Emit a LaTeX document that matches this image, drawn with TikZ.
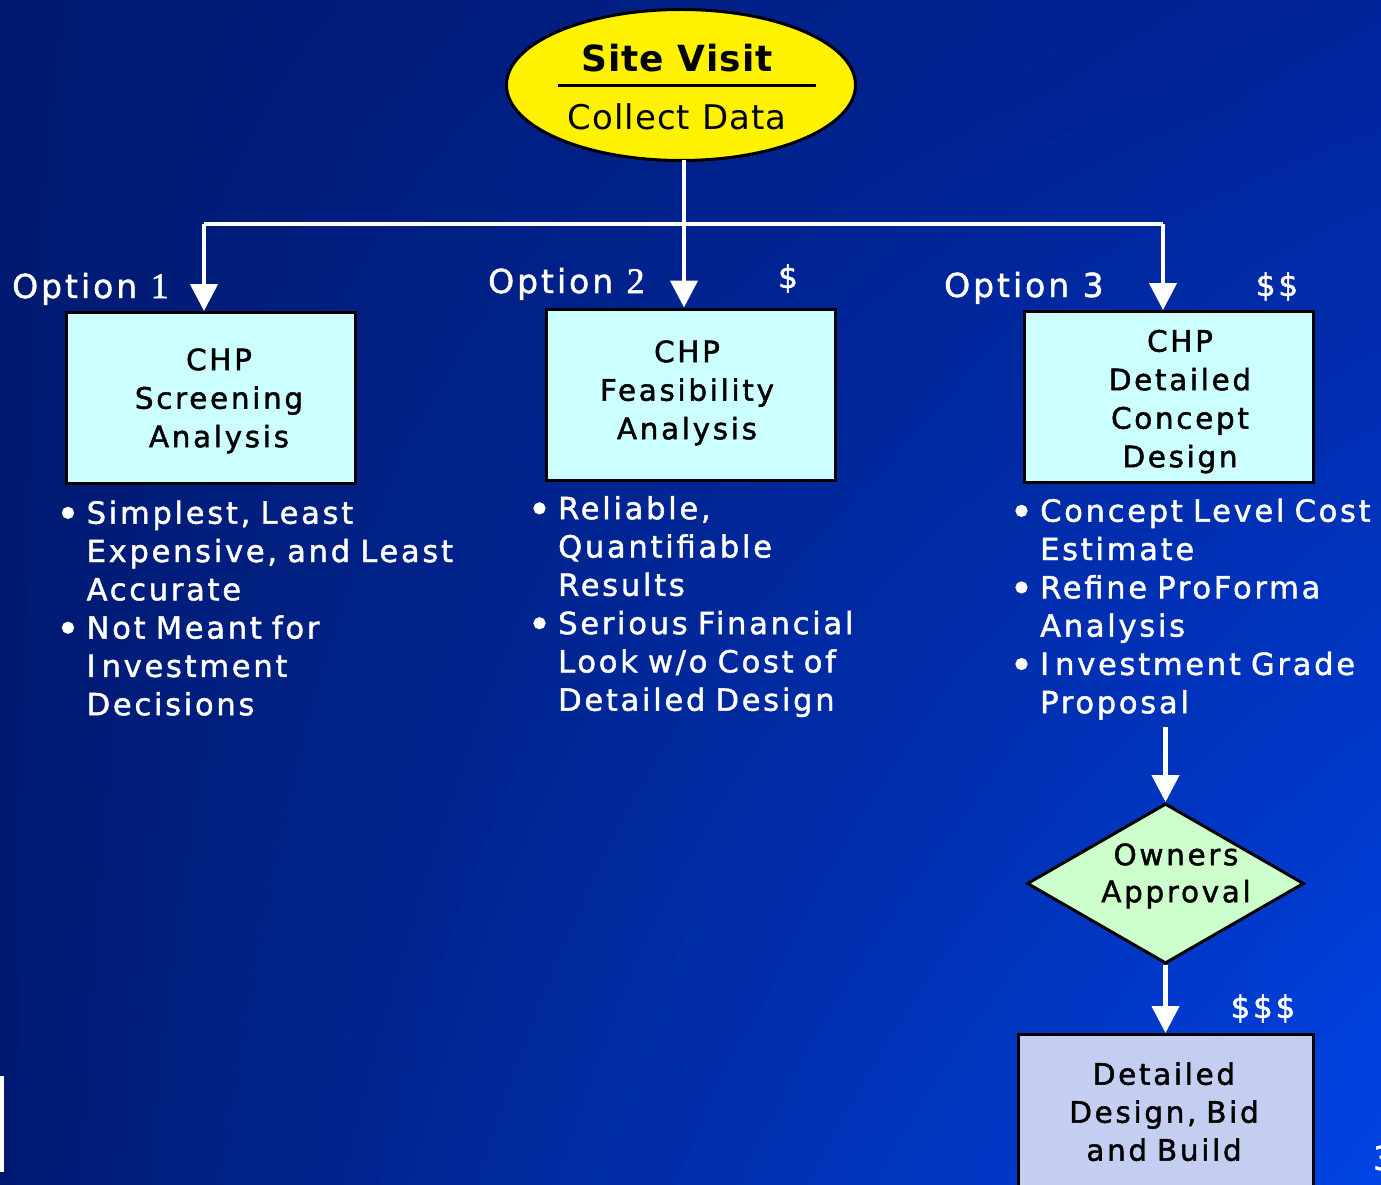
\documentclass[tikz,border=0pt]{standalone}
\usepackage{fontspec}
\setmainfont{DejaVu Sans}[LetterSpace=9,FakeBold=1.5]
\newfontfamily\tightfont{DejaVu Sans}[LetterSpace=3]
\newfontfamily\numserif{Liberation Serif}[FakeBold=1.5]
\usetikzlibrary{shapes.geometric,arrows.meta,shadings}
\definecolor{bgUL}{HTML}{001A70}
\definecolor{bgUR}{HTML}{00249A}
\definecolor{bgLL}{HTML}{001A72}
\definecolor{bgLR}{HTML}{0044E6}
\definecolor{boxcyan}{HTML}{CCFFFF}
\definecolor{diagreen}{HTML}{CCFFCC}
\definecolor{buildfill}{HTML}{C4CEF0}
\newcommand\mybul{\makebox[30.5pt][l]{\fontsize{40}{40}\selectfont\raisebox{-4pt}{•}}}
\newcommand\contind{\hspace*{30.5pt}}
\begin{document}
\begin{tikzpicture}[x=1pt,y=-1pt,
  conn/.style={draw=white,line width=4.5pt},
  arr/.style={conn,-{Triangle[width=27pt,length=27pt]}},
  cbox/.style={draw=black,line width=3pt,fill=boxcyan,minimum width=289pt,minimum height=171pt,inner sep=0pt},
  boxtxt/.style={text width=320pt,align=center,inner sep=0pt,anchor=north,text=black,font=\fontsize{29.5}{38.5}\selectfont},
  bullets/.style={text width=420pt,align=left,inner sep=0pt,anchor=north west,text=white,font=\fontsize{30.5}{38.3}\selectfont},
  optlbl/.style={anchor=base west,inner sep=0pt,text=white,font=\fontsize{33}{33}\selectfont},
  money/.style={anchor=base,inner sep=0pt,text=white,font=\fontsize{31}{31}\selectfont},
]
\useasboundingbox (0,0) rectangle (1381,1185);
\shade[upper left=bgUL,upper right=bgUR,lower left=bgLL,lower right=bgLR] (0,0) rectangle (1381,1185);

% top ellipse
\node[ellipse,draw=black,line width=3pt,fill=yellow,minimum width=349pt,minimum height=151pt,inner sep=0pt] (site) at (681,85) {};
\node[anchor=base,inner sep=0pt,font=\tightfont\fontsize{36}{36}\selectfont\bfseries] (sv) at (677,71.5) {Site Visit};
\node[anchor=base,inner sep=0pt,font=\tightfont\fontsize{34}{34}\selectfont] (cd) at (677,130) {Collect Data};
\draw[line width=3pt] (558,86) -- (816,86);

% boxes
\node[cbox] (box1) at (211,398) {};
\node[cbox] (box2) at (691,394.5) {};
\node[cbox] (box3) at (1168.5,397) {};
\node[boxtxt] (t1) at (219,340) {\rule{0pt}{30pt}CHP\\Screening\\Analysis};
\node[boxtxt] (t2) at (687,332) {\rule{0pt}{30pt}CHP\\Feasibility\\Analysis};
\node[boxtxt] (t3) at (1180,321.5) {\rule{0pt}{30pt}CHP\\Detailed\\Concept\\Design};

% connectors
\coordinate (tstem) at (684,160);
\coordinate (jl) at (204,224);
\coordinate (jr) at (1163,224);
\draw[conn,line cap=square] (jl) -- (jr);
\draw[arr] (tstem) -- (tstem |- box2.north);
\draw[arr] (jl) -- (jl |- box1.north);
\draw[arr] (jr) -- (jr |- box3.north);

% option labels
\node[optlbl] (o1) at (12,298) {Option {\numserif\fontsize{36}{36}\selectfont 1}};
\node[optlbl] (o2) at (488,293) {Option {\numserif\fontsize{36}{36}\selectfont 2}};
\node[optlbl] (o3) at (944,297) {Option 3};
\node[money] (m2) at (788,288) {\$};
\node[money] (m3) at (1277,296) {\$\$};
\node[money] (m4) at (1263,1018) {\$\$\$};

% bullet lists
\node[bullets] (l1) at (56,493.5) {\rule{0pt}{30pt}\mybul Simplest, Least\\\contind Expensive, and Least\\\contind Accurate\\\mybul Not Meant for\\\contind I\kern6pt nvestment\\\contind Decisions};
\node[bullets] (l2) at (527.5,489) {\rule{0pt}{30pt}\mybul Reliable,\\\contind Quantifiable\\\contind Results\\\mybul Serious Financial\\\contind Look w/o Cost of\\\contind Detailed Design};
\node[bullets] (l3) at (1009.5,491.5) {\rule{0pt}{30pt}\mybul Concept Level Cost\\\contind Estimate\\\mybul Refine ProForma\\\contind Analysis\\\mybul I\kern6pt nvestment Grade\\\contind Proposal};

% approval diamond
\node[diamond,draw=black,line width=3pt,fill=diagreen,minimum width=277pt,minimum height=160pt,inner sep=0pt] (appr) at (1165.5,883.5) {};
\node[boxtxt,text width=280pt,font=\fontsize{29.5}{37}\selectfont] (ta) at (1176,835) {\rule{0pt}{30pt}Owners\\Approval};
\coordinate (la) at (1167,727);
\draw[arr] (appr.north |- la) -- (appr.north);

% final box
\node[draw=black,line width=3pt,fill=buildfill,minimum width=295pt,minimum height=205pt,inner sep=0pt] (build) at (1166,1137) {};
\node[boxtxt,font=\fontsize{29.5}{38}\selectfont] (tb) at (1164,1054.5) {\rule{0pt}{30pt}Detailed\\Design, Bid\\and Build};
\draw[arr] (appr.south) -- (appr.south |- build.north);

% edge marks
\fill[white] (0,1076) rectangle (4,1172);
\node[anchor=base west,inner sep=0pt,text=white,font=\fontsize{33}{33}\selectfont] (pg) at (1373,1170) {3};
\end{tikzpicture}
\end{document}
